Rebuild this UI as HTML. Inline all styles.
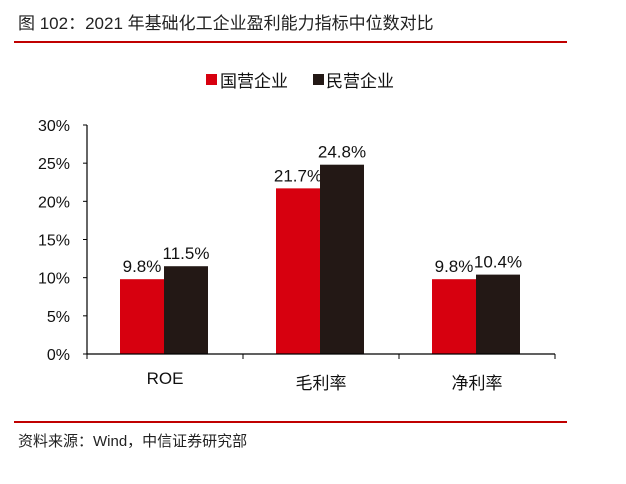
<!DOCTYPE html>
<html><head><meta charset="utf-8"><style>
body{margin:0;background:#fff;width:626px;height:479px;overflow:hidden;font-family:"Liberation Sans","Noto Sans CJK SC",sans-serif;}
</style></head><body>
<svg width="626" height="479" style="font-family:'Liberation Sans','Noto Sans CJK SC',sans-serif">
<text x="18" y="29" font-size="17" fill="#222">图 102：2021 年基础化工企业盈利能力指标中位数对比</text>
<rect x="14" y="41" width="553" height="2" fill="#c00000"/>
<g>
<rect x="206" y="74" width="11" height="11" fill="#d7000f"/>
<text x="220" y="87" font-size="17" fill="#111">国营企业</text>
<rect x="313" y="74" width="11" height="11" fill="#231815"/>
<text x="326" y="87" font-size="17" fill="#111">民营企业</text>
</g>
<g id="plot"></g>
<rect x="14" y="421" width="553" height="2" fill="#c00000"/>
<text x="18" y="446" font-size="15" fill="#222">资料来源：Wind，中信证券研究部</text>
</svg>
<script>
const categories=["ROE","毛利率","净利率"];
const stateVals=[9.8,21.7,9.8];
const privateVals=[11.5,24.8,10.4];
const yTicks=[0,5,10,15,20,25,30];
const NS="http://www.w3.org/2000/svg";
const g=document.getElementById('plot');
const x0=87,x1=555,y0=354,y1=125,yMax=30;
const yS=v=>y0-(v/yMax)*(y0-y1);
const bw=(x1-x0)/categories.length;
function el(t,a){const e=document.createElementNS(NS,t);for(const k in a)e.setAttribute(k,a[k]);g.appendChild(e);return e;}
yTicks.forEach(v=>{
 const t=el('text',{x:70,y:yS(v)+6,'font-size':16,'text-anchor':'end',fill:'#111'});
 t.textContent=v+'%';
 
 
 const l=el('line',{x1:x0-4,x2:x0,y1:yS(v),y2:yS(v),stroke:'#000'});
 
 
});
categories.forEach((c,i)=>{
 const cx=x0+bw*(i+0.5);
 [[stateVals[i],'#d7000f',cx-45],[privateVals[i],'#231815',cx-1]].forEach(([v,col,bx],j)=>{
  const r=el('rect',{x:bx,y:yS(v),width:44,height:y0-yS(v),fill:col});
  
  
  const t=el('text',{x:bx+22,y:yS(v)-7,'font-size':17,'text-anchor':'middle',fill:'#111'});
  t.textContent=v.toFixed(1)+'%';
  
  
 });
 const t=el('text',{x:cx,y:i==0?384:389,'font-size':17,'text-anchor':'middle',fill:'#111'});
 t.textContent=c;
 
 
});
for(let i=0;i<=categories.length;i++){
 const l=el('line',{x1:x0+bw*i,x2:x0+bw*i,y1:y0,y2:y0+5,stroke:'#000'});
 
 
}
const ya=el('line',{x1:x0,x2:x0,y1:y1,y2:y0,stroke:'#000','stroke-width':1.2});


const xa=el('line',{x1:x0,x2:x1,y1:y0,y2:y0,stroke:'#000','stroke-width':1.2});


</script>
</body></html>
